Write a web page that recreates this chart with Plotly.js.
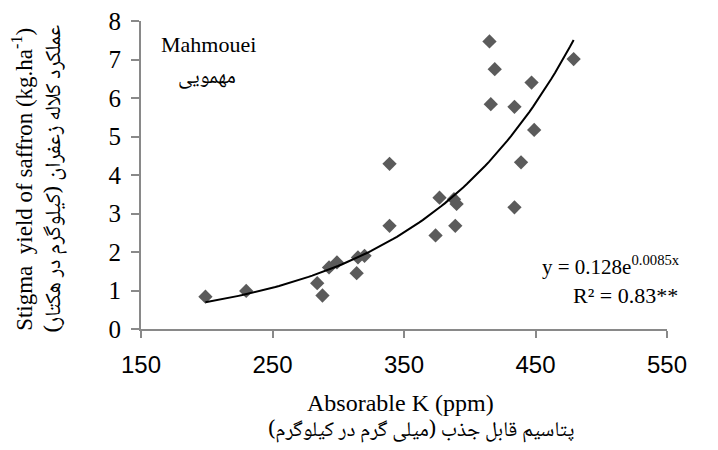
<!DOCTYPE html>
<html>
<head>
<meta charset="utf-8">
<script src="https://cdn.plot.ly/plotly-3.0.1.min.js"></script>
<style>html,body{margin:0;padding:0;background:#fff;}#chart{width:718px;height:450px;}</style>
</head>
<body>
<div id="chart"></div>
<script>
// Observed data (Absorable K in ppm, stigma yield in kg/ha)
const kValues = [199, 230, 284, 288, 293, 299, 314, 315, 320, 339, 339, 374, 377, 388, 390, 389, 415, 416, 419, 434, 434, 439, 447, 449, 479];
const yieldValues = [0.84, 0.99, 1.19, 0.87, 1.60, 1.73, 1.45, 1.86, 1.90, 2.68, 4.29, 2.43, 3.41, 3.37, 3.25, 2.68, 7.47, 5.84, 6.75, 5.77, 3.16, 4.33, 6.40, 5.17, 7.01];
// Exponential trendline coefficients shown on the chart: y = a * e^(b x)
const fitA = 0.128;
const fitB = 0.0085;
const xTickVals = [150, 250, 350, 450, 550];
const yTickVals = [0, 1, 2, 3, 4, 5, 6, 7, 8];

const xMin = Math.min(...kValues), xMax = Math.max(...kValues);
const trendX = [], trendY = [];
for (let i = 0; i <= 100; i++) {
  const x = xMin + (xMax - xMin) * i / 100;
  trendX.push(x);
  trendY.push(fitA * Math.exp(fitB * x));
}

const serif = 'Liberation Serif, Times New Roman, serif';
const sans = 'Liberation Sans, Arial, sans-serif';
const fa = 'Noto Naskh Arabic, Noto Sans Arabic, DejaVu Sans, sans-serif';
const axisColor = '#898989';

const traces = [
  {x: kValues, y: yieldValues, type: 'scatter', mode: 'markers',
   marker: {symbol: 'diamond', size: 11, color: '#5b5b5b'}, hoverinfo: 'x+y'},
  {x: trendX, y: trendY, type: 'scatter', mode: 'lines',
   line: {color: '#000', width: 2}, hoverinfo: 'skip'}
];

const L = 141, R = 667, T = 21, B = 329.3;
const px = v => (v - L) / (R - L);
const py = v => (B - v) / (B - T);

const layout = {
  width: 718, height: 450,
  margin: {l: L, r: 718 - R, t: T, b: 450 - B},
  paper_bgcolor: '#fff', plot_bgcolor: '#fff',
  showlegend: false,
  xaxis: {range: [150, 550], tickvals: xTickVals, ticks: 'outside', ticklen: 7, tickwidth: 2, tickcolor: axisColor,
          showline: true, linecolor: axisColor, linewidth: 2, showgrid: false, zeroline: false,
          tickfont: {family: sans, size: 24, color: '#000'}, ticklabelstandoff: 6},
  yaxis: {range: [0, 8], tickvals: yTickVals, ticks: 'outside', ticklen: 8, tickwidth: 2, tickcolor: axisColor,
          showline: true, linecolor: axisColor, linewidth: 2, showgrid: false, zeroline: false,
          tickfont: {family: serif, size: 25, color: '#000'}, ticklabelstandoff: 5},
  annotations: [
    {xref: 'paper', yref: 'paper', x: px(400), y: py(403), text: 'Absorable K (ppm)', showarrow: false,
     font: {family: serif, size: 24, color: '#000'}, xanchor: 'center', yanchor: 'middle'},
    {xref: 'paper', yref: 'paper', x: px(421), y: py(432), text: 'پتاسیم قابل جذب (میلی گرم در کیلوگرم)', showarrow: false,
     font: {family: fa, size: 21, color: '#000'}, xanchor: 'center', yanchor: 'middle'},
    {xref: 'paper', yref: 'paper', x: px(23), y: py(180), text: 'Stigma  yield of saffron (kg.ha<sup>-1</sup>)', showarrow: false,
     textangle: -90, font: {family: serif, size: 23, color: '#000'}, xanchor: 'center', yanchor: 'middle'},
    {xref: 'paper', yref: 'paper', x: px(55), y: py(179), text: 'عملکرد کلاله زعفران (کیلوگرم در هکتار)', showarrow: false,
     textangle: -90, font: {family: fa, size: 22, color: '#000'}, xanchor: 'center', yanchor: 'middle'},
    {xref: 'paper', yref: 'paper', x: px(208), y: py(45), text: 'Mahmouei', showarrow: false,
     font: {family: serif, size: 22, color: '#000'}, xanchor: 'center', yanchor: 'middle'},
    {xref: 'paper', yref: 'paper', x: px(207), y: py(79), text: 'مهمویی', showarrow: false,
     font: {family: fa, size: 21, color: '#000'}, xanchor: 'center', yanchor: 'middle'},
    {xref: 'paper', yref: 'paper', x: px(611), y: py(266), text: 'y = 0.128e<sup>0.0085x</sup>', showarrow: false,
     font: {family: serif, size: 21, color: '#000'}, xanchor: 'center', yanchor: 'middle'},
    {xref: 'paper', yref: 'paper', x: px(625), y: py(296), text: 'R² = 0.83**', showarrow: false,
     font: {family: serif, size: 22, color: '#000'}, xanchor: 'center', yanchor: 'middle'}
  ]
};

Plotly.newPlot('chart', traces, layout, {displayModeBar: false, staticPlot: true});
</script>
</body>
</html>
